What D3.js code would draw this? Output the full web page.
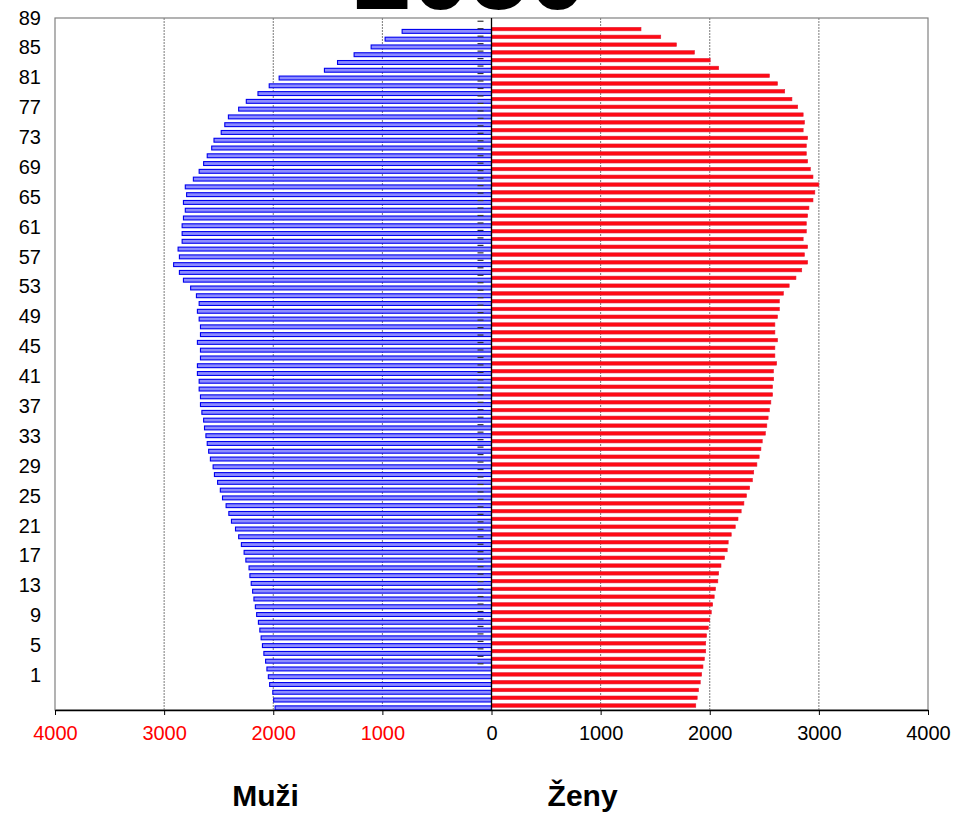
<!DOCTYPE html>
<html>
<head>
<meta charset="utf-8">
<script src="https://cdn.jsdelivr.net/npm/d3@7"></script>
<style>
  html, body { margin: 0; padding: 0; background: #fff; }
  svg { display: block; font-family: "Liberation Sans", Arial, sans-serif; }
</style>
</head>
<body>
<svg id="chart" width="977" height="814"></svg>
<script>
// ---- data (youngest to oldest, bottom to top) ----
const males = [
  1983, 1996, 2004, 2033, 2045, 2058, 2070, 2086, 2099, 2111,
  2123, 2136, 2152, 2164, 2177, 2189, 2202, 2214, 2222, 2251,
  2267, 2292, 2317, 2346, 2383, 2407, 2432, 2465, 2485, 2510,
  2539, 2551, 2576, 2592, 2605, 2617, 2630, 2638, 2654, 2667,
  2667, 2679, 2679, 2695, 2695, 2667, 2667, 2695, 2667, 2667,
  2679, 2695, 2679, 2704, 2757, 2823, 2860, 2913, 2860, 2872,
  2835, 2835, 2835, 2823, 2806, 2823, 2794, 2806, 2732, 2679,
  2638, 2605, 2564, 2543, 2477, 2444, 2411, 2317, 2247, 2140,
  2037, 1946, 1531, 1411, 1259, 1103, 975, 819
];
const females = [
  1872, 1885, 1897, 1913, 1926, 1938, 1951, 1963, 1963, 1971,
  1988, 2000, 2014, 2027, 2041, 2053, 2074, 2082, 2103, 2136,
  2160, 2169, 2197, 2234, 2259, 2288, 2313, 2337, 2366, 2391,
  2403, 2432, 2453, 2469, 2481, 2510, 2523, 2535, 2547, 2560,
  2576, 2576, 2586, 2584, 2613, 2597, 2597, 2621, 2597, 2597,
  2621, 2638, 2638, 2675, 2728, 2790, 2843, 2897, 2868, 2897,
  2856, 2885, 2885, 2897, 2909, 2946, 2963, 3000, 2946, 2922,
  2897, 2885, 2885, 2897, 2856, 2868, 2856, 2806, 2753, 2687,
  2621, 2547, 2082, 2004, 1860, 1695, 1551, 1370
];
const slotCount = 89;                       // one empty slot at the top
const yTickLabels = [1,5,9,13,17,21,25,29,33,37,41,45,49,53,57,61,65,69,73,77,81,85,89];
const xTickValues = [-4000,-3000,-2000,-1000,0,1000,2000,3000,4000];
const gridValues = [-3000,-2000,-1000,1000,2000,3000];
const title = "2050";
const sideLabels = [{text:"Muži", v:-2070}, {text:"Ženy", v:835}];

// ---- layout ----
const svg = d3.select("#chart");
const plot = {left: 55, right: 928, top: 18, bottom: 710};

const x = d3.scaleLinear().domain([-4000, 4000]).range([plot.left, plot.right]);
const y = d3.scaleBand().domain(d3.range(slotCount)).range([plot.bottom, plot.top]).padding(0);
const bw = y.bandwidth();
// label axis (the printed age labels)
const yl = d3.scaleLinear().domain([89, 1]).range([17.5, 675]);

// title
svg.append("text")
  .attr("x", 470).attr("y", 8.5)
  .attr("text-anchor", "middle")
  .attr("font-weight", "bold")
  .attr("font-size", 105)
  .attr("fill", "#000")
  .text(title);

// gridlines
svg.append("g").selectAll("line").data(gridValues).join("line")
  .attr("x1", d => x(d)).attr("x2", d => x(d))
  .attr("y1", plot.top).attr("y2", plot.bottom)
  .attr("stroke", "#7a7a7a").attr("stroke-width", 1)
  .attr("stroke-dasharray", "2,1");

// plot border
svg.append("rect")
  .attr("x", plot.left).attr("y", plot.top)
  .attr("width", plot.right - plot.left).attr("height", plot.bottom - plot.top)
  .attr("fill", "none").attr("stroke", "#808080").attr("stroke-width", 1.2);

// male bars
svg.append("g").selectAll("rect").data(males).join("rect")
  .attr("x", d => x(-d))
  .attr("width", d => x(0) - x(-d))
  .attr("y", (d, i) => y(i) + bw * 0.47)
  .attr("height", bw * 0.5)
  .attr("fill", "#8c8cff")
  .attr("stroke", "#0000ee")
  .attr("stroke-width", 1.1);

// female bars
svg.append("g").selectAll("rect").data(females).join("rect")
  .attr("x", x(0))
  .attr("width", d => x(d) - x(0))
  .attr("y", (d, i) => y(i) + bw * 0.2)
  .attr("height", bw * 0.45)
  .attr("fill", "#ff0a14")
  .attr("stroke", "#e0203a")
  .attr("stroke-width", 0.6);

// small tick dashes of the label axis
const dashVals = d3.range(2, 89).map(v => v + 0.5);
svg.append("g").selectAll("line").data(dashVals).join("line")
  .attr("x1", x(0) - 14).attr("x2", x(0) - 8)
  .attr("y1", d => yl(d)).attr("y2", d => yl(d))
  .attr("stroke", "#333").attr("stroke-width", 1.2);

// zero line
svg.append("line")
  .attr("x1", x(0)).attr("x2", x(0))
  .attr("y1", plot.top).attr("y2", plot.bottom)
  .attr("stroke", "#000").attr("stroke-width", 1.3);

// bottom axis
const xAxis = d3.axisBottom(x)
  .tickValues(xTickValues)
  .tickSize(5)
  .tickSizeOuter(0)
  .tickPadding(11)
  .tickFormat(d => String(Math.abs(d)));
const gx = svg.append("g")
  .attr("transform", `translate(0,${plot.bottom})`)
  .call(xAxis);
gx.select(".domain").attr("stroke", "#000").attr("stroke-width", 1.5);
gx.selectAll(".tick line").attr("stroke", "#000").attr("stroke-width", 1);
gx.selectAll(".tick text")
  .attr("font-size", 20)
  .attr("font-family", "\"Liberation Sans\", Arial, sans-serif")
  .attr("fill", d => d < 0 ? "#ff0000" : "#000");

// y labels
svg.append("g").selectAll("text").data(yTickLabels).join("text")
  .attr("x", 41)
  .attr("y", d => yl(d))
  .attr("dy", "0.35em")
  .attr("text-anchor", "end")
  .attr("font-size", 20)
  .attr("fill", "#000")
  .text(d => d);

// side labels
svg.append("g").selectAll("text").data(sideLabels).join("text")
  .attr("x", d => x(d.v))
  .attr("y", 806)
  .attr("text-anchor", "middle")
  .attr("font-weight", "bold")
  .attr("font-size", 30)
  .attr("fill", "#000")
  .text(d => d.text);
</script>
</body>
</html>
